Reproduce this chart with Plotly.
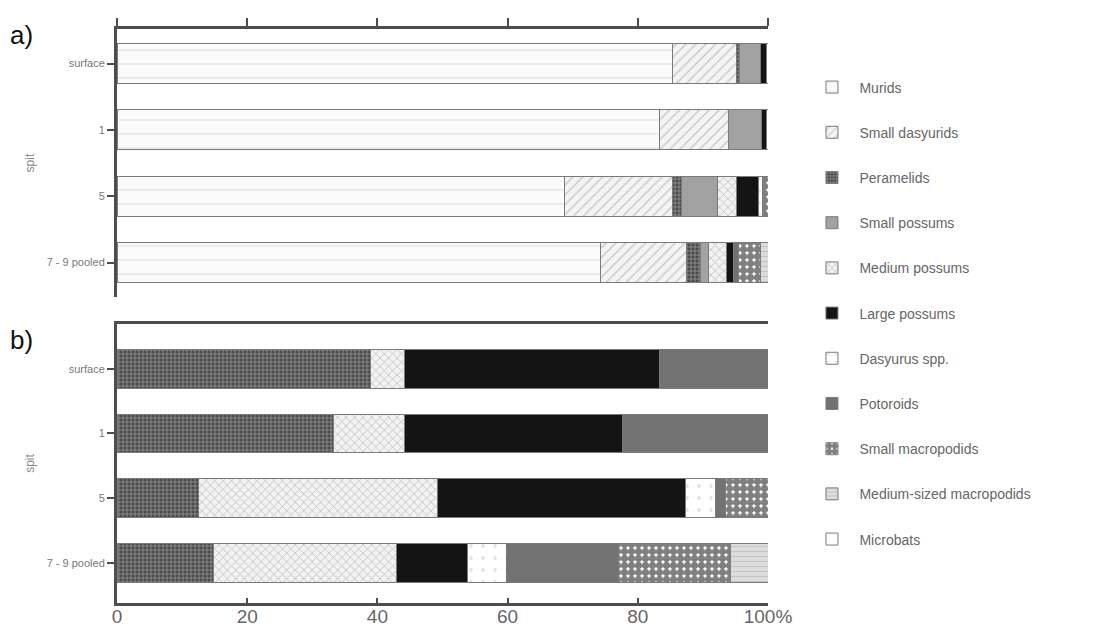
import plotly.graph_objects as go
from plotly.subplots import make_subplots

spits = ["surface", "1", "5", "7 - 9 pooled"]

taxa = ["Murids", "Small dasyurids", "Peramelids", "Small possums",
        "Medium possums", "Large possums", "Dasyurus spp.", "Potoroids",
        "Small macropodids", "Medium-sized macropodids", "Microbats"]

# a) percentage of specimens per taxon, per spit
murids_a = [85.3, 83.4, 68.8, 74.2]
small_dasyurids_a = [9.9, 10.6, 16.6, 13.3]
peramelids_a = [0.4, 0, 1.3, 2.1]
small_possums_a = [3.3, 5.0, 5.6, 1.2]
medium_possums_a = [0, 0, 2.9, 2.9]
large_possums_a = [0.8, 0.7, 3.4, 1.0]
dasyurus_a = [0.3, 0.3, 0.5, 0]
potoroids_a = [0, 0, 0, 0.7]
small_macropodids_a = [0, 0, 0.9, 3.4]
medium_macropodids_a = [0, 0, 0, 1.2]
microbats_a = [0, 0, 0, 0]

# b) percentage of biomass per taxon, per spit
murids_b = [0, 0, 0, 0]
small_dasyurids_b = [0, 0, 0, 0]
peramelids_b = [38.9, 33.2, 12.5, 14.8]
small_possums_b = [0, 0, 0, 0]
medium_possums_b = [5.3, 11.0, 36.8, 28.2]
large_possums_b = [39.2, 33.5, 38.0, 10.9]
dasyurus_b = [0, 0, 4.6, 6.0]
potoroids_b = [16.6, 22.3, 1.5, 17.1]
small_macropodids_b = [0, 0, 6.6, 17.2]
medium_macropodids_b = [0, 0, 0, 5.8]
microbats_b = [0, 0, 0, 0]

x_ticks = [0, 20, 40, 60, 80, 100]
x_tick_text = ["0", "20", "40", "60", "80", "100%"]

panel_a = [murids_a, small_dasyurids_a, peramelids_a, small_possums_a,
           medium_possums_a, large_possums_a, dasyurus_a, potoroids_a,
           small_macropodids_a, medium_macropodids_a, microbats_a]
panel_b = [murids_b, small_dasyurids_b, peramelids_b, small_possums_b,
           medium_possums_b, large_possums_b, dasyurus_b, potoroids_b,
           small_macropodids_b, medium_macropodids_b, microbats_b]

# greyscale fills with hatch patterns, one per taxon
styles = [
    dict(color="#fbfbfb", pattern=dict(shape="-", fgcolor="#d6d6d6", bgcolor="#fbfbfb", size=14, solidity=0.12)),
    dict(color="#f2f2f2", pattern=dict(shape="/", fgcolor="#9a9a9a", bgcolor="#f4f4f4", size=7, solidity=0.2)),
    dict(color="#555555", pattern=dict(shape="+", fgcolor="#e8e8e8", bgcolor="#4a4a4a", size=4, solidity=0.35)),
    dict(color="#a2a2a2"),
    dict(color="#eeeeee", pattern=dict(shape="x", fgcolor="#8a8a8a", bgcolor="#f2f2f2", size=6, solidity=0.25)),
    dict(color="#141414"),
    dict(color="#ffffff", pattern=dict(shape=".", fgcolor="#c8c8c8", bgcolor="#ffffff", size=12, solidity=0.08)),
    dict(color="#727272"),
    dict(color="#222222", pattern=dict(shape=".", fgcolor="#000000", bgcolor="#ffffff", size=7, solidity=0.8)),
    dict(color="#d4d4d4", pattern=dict(shape="-", fgcolor="#aaaaaa", bgcolor="#dcdcdc", size=5, solidity=0.2)),
    dict(color="#ffffff"),
]

fig = make_subplots(rows=2, cols=1, vertical_spacing=0.047)

for row, data in ((1, panel_a), (2, panel_b)):
    for name, vals, st in zip(taxa, data, styles):
        v = [x if x else None for x in vals]
        marker = dict(color=st["color"], line=dict(color="#7a7a7a", width=1))
        if "pattern" in st:
            marker["pattern"] = st["pattern"]
        fig.add_trace(
            go.Bar(y=spits, x=v, name=name, orientation="h", marker=marker,
                   width=0.6, legendgroup=name, showlegend=(row == 1)),
            row=row, col=1)

axis_col = "#4d4d4d"
narrow = "Liberation Sans Narrow, Liberation Sans, sans-serif"
tick_font = dict(family=narrow, size=11, color="#777777")

fig.update_xaxes(range=[0, 100], tickvals=x_ticks, showgrid=False, zeroline=False,
                 showline=True, linecolor=axis_col, linewidth=3,
                 tickcolor=axis_col, tickwidth=2, automargin=False)
fig.update_xaxes(row=1, col=1, side="top", showticklabels=False,
                 ticks="outside", ticklen=8)
fig.update_xaxes(row=2, col=1, mirror=True, ticktext=x_tick_text,
                 ticks="inside", ticklen=5, ticklabelstandoff=-6,
                 tickfont=dict(family=narrow, size=19, color="#666666"))
fig.update_yaxes(categoryorder="array", categoryarray=spits, showgrid=False,
                 zeroline=False, showline=True, linecolor=axis_col, linewidth=3,
                 ticks="outside", tickcolor=axis_col, ticklen=7, tickwidth=1.5,
                 tickfont=tick_font, automargin=False,
                 title=dict(text="spit", font=dict(family=narrow, size=12, color="#8a8a8a"),
                            standoff=10))
fig.update_yaxes(row=1, col=1, range=[3.52, -0.52], domain=[0.533, 1.0])
fig.update_yaxes(row=2, col=1, range=[3.62, -0.69], domain=[0.0, 0.486])

fig.add_annotation(text="a)", xref="paper", yref="paper", x=-0.167, y=0.99,
                   xanchor="left", yanchor="middle", showarrow=False,
                   font=dict(family=narrow, size=26, color="#111111"))
fig.add_annotation(text="b)", xref="paper", yref="paper", x=-0.167, y=0.458,
                   xanchor="left", yanchor="middle", showarrow=False,
                   font=dict(family=narrow, size=26, color="#111111"))

fig.update_layout(
    width=1110, height=628,
    barmode="stack",
    bargap=0.4,
    plot_bgcolor="white", paper_bgcolor="white",
    margin=dict(l=117, r=342, t=29, b=25),
    legend=dict(x=1.056, y=0.926, xanchor="left", yanchor="top",
                traceorder="grouped", tracegroupgap=24, itemwidth=45,
                font=dict(family="Liberation Sans, Arial, sans-serif", size=14, color="#666666"),
                bgcolor="rgba(0,0,0,0)"),
)

fig.write_html("out.html")
